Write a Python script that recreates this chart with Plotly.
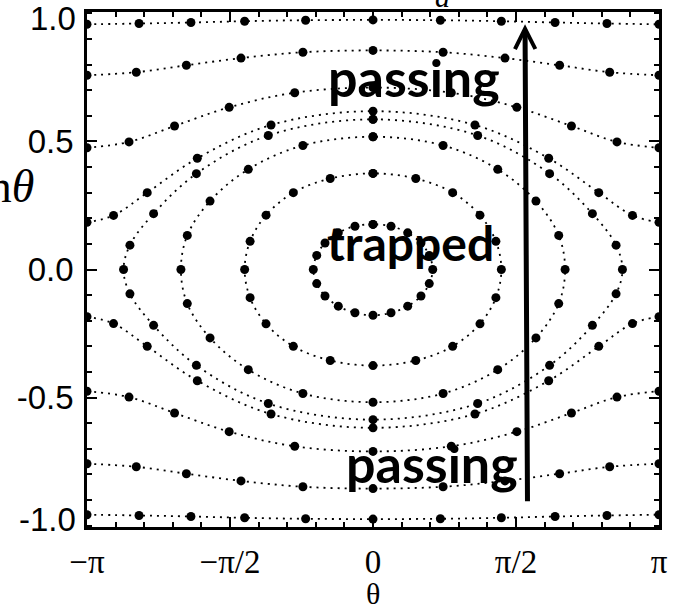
import math
import plotly.graph_objects as go

PI = math.pi

# ---- orbit sample points (theta, normalised parallel coordinate) ----
# passing orbits, upper and lower branches
p1_theta = [-PI, -2.57, -2.00, -1.41, -0.74, 0.0, 0.74, 1.41, 2.00, 2.57, PI]
p1_up = [0.957, 0.960, 0.964, 0.969, 0.973, 0.974, 0.973, 0.969, 0.964, 0.960, 0.957]
p1_dn = [-0.957, -0.960, -0.964, -0.969, -0.973, -0.974, -0.973, -0.969, -0.964, -0.960, -0.957]

p2_theta = [-PI, -2.60, -2.05, -1.45, -0.77, 0.0, 0.77, 1.45, 2.05, 2.60, PI]
p2_up = [0.758, 0.770, 0.797, 0.825, 0.848, 0.855, 0.848, 0.825, 0.797, 0.770, 0.758]
p2_dn = [-0.758, -0.770, -0.797, -0.825, -0.848, -0.855, -0.848, -0.825, -0.797, -0.770, -0.758]

p3_theta = [-PI, -2.68, -2.18, -1.58, -0.86, 0.0, 0.86, 1.58, 2.18, 2.68, PI]
p3_up = [0.475, 0.498, 0.560, 0.633, 0.690, 0.710, 0.690, 0.633, 0.560, 0.498, 0.475]
p3_dn = [-0.475, -0.498, -0.560, -0.633, -0.690, -0.710, -0.690, -0.633, -0.560, -0.498, -0.475]

p4_theta = [-PI, -2.85, -2.48, -1.93, -1.12, 0.0, 1.12, 1.93, 2.48, 2.85, PI]
p4_up = [0.184, 0.211, 0.300, 0.434, 0.564, 0.618, 0.564, 0.434, 0.300, 0.211, 0.184]
p4_dn = [-0.184, -0.211, -0.300, -0.434, -0.564, -0.618, -0.564, -0.434, -0.300, -0.211, -0.184]

# trapped orbits, closed loops starting at the top (theta = 0)
t1_theta = [0.0, 1.15, 1.94, 2.41, 2.67, 2.74, 2.67, 2.41, 1.94, 1.15, 0.0,
            -1.15, -1.94, -2.41, -2.67, -2.74, -2.67, -2.41, -1.94, -1.15, 0.0]
t1_y = [0.586, 0.523, 0.374, 0.218, 0.095, 0.0, -0.095, -0.218, -0.374, -0.523, -0.586,
        -0.523, -0.374, -0.218, -0.095, 0.0, 0.095, 0.218, 0.374, 0.523, 0.586]

t2_theta = [0.0, 0.77, 1.37, 1.79, 2.04, 2.11, 2.04, 1.79, 1.37, 0.77, 0.0,
            -0.77, -1.37, -1.79, -2.04, -2.11, -2.04, -1.79, -1.37, -0.77, 0.0]
t2_y = [0.518, 0.484, 0.391, 0.267, 0.133, 0.0, -0.133, -0.267, -0.391, -0.484, -0.518,
        -0.484, -0.391, -0.267, -0.133, 0.0, 0.133, 0.267, 0.391, 0.484, 0.518]

t3_theta = [0.0, 0.47, 0.875, 1.175, 1.35, 1.41, 1.35, 1.175, 0.875, 0.47, 0.0,
            -0.47, -0.875, -1.175, -1.35, -1.41, -1.35, -1.175, -0.875, -0.47, 0.0]
t3_y = [0.375, 0.355, 0.300, 0.212, 0.110, 0.0, -0.110, -0.212, -0.300, -0.355, -0.375,
        -0.355, -0.300, -0.212, -0.110, 0.0, 0.110, 0.212, 0.300, 0.355, 0.375]

t4_theta = [0.0, 0.198, 0.381, 0.527, 0.618, 0.656, 0.618, 0.527, 0.381, 0.198, 0.0,
            -0.198, -0.381, -0.527, -0.618, -0.656, -0.618, -0.527, -0.381, -0.198, 0.0]
t4_y = [0.176, 0.169, 0.143, 0.1035, 0.055, 0.0, -0.055, -0.1035, -0.143, -0.169, -0.1785,
        -0.169, -0.143, -0.1035, -0.055, 0.0, 0.055, 0.1035, 0.143, 0.169, 0.176]

orbits = [
    (p1_theta, p1_up), (p1_theta, p1_dn),
    (p2_theta, p2_up), (p2_theta, p2_dn),
    (p3_theta, p3_up), (p3_theta, p3_dn),
    (p4_theta, p4_up), (p4_theta, p4_dn),
    (t1_theta, t1_y), (t2_theta, t2_y), (t3_theta, t3_y), (t4_theta, t4_y),
]

# axis ticks
x_tickvals = [-PI, -PI / 2, 0, PI / 2, PI]
x_ticktext = ["\u2212\u03c0", "\u2212\u03c0/2", "0", "\u03c0/2", "\u03c0"]
y_tickvals = [-0.5, 0.0, 0.5]
y_ticktext = ["-0.5", "0.0", "0.5"]
# end labels of the y axis, kept just inside the frame: (text, paper y)
y_end_labels = [("1.0", 0.987), ("-1.0", 0.015)]

# region labels: (text, theta, y, font size)
region_labels = [("passing", 0.45, 0.752, 52), ("trapped", 0.41, 0.107, 48),
                 ("passing", 0.65, -0.756, 52)]

# vertical arrow across the phase space
arrow_tail = (1.697, -0.910)
arrow_head = (1.670, 0.957)

fig = go.Figure()
for th, yy in orbits:
    fig.add_trace(go.Scatter(
        x=th, y=yy, mode="lines+markers",
        line=dict(color="black", width=1.8, dash="2px,5px", shape="spline"),
        marker=dict(color="black", size=9),
        showlegend=False, hoverinfo="skip",
    ))

for text, tx, ty, fs in region_labels:
    fig.add_annotation(x=tx, y=ty, xref="x", yref="y", text=text, showarrow=False,
                       xanchor="center", yanchor="middle",
                       font=dict(family="Lato", size=fs, color="black", weight="bold"))

fig.add_annotation(x=arrow_head[0], y=arrow_head[1], ax=arrow_tail[0], ay=arrow_tail[1],
                   xref="x", yref="y", axref="x", ayref="y", text="", showarrow=True,
                   arrowhead=5, arrowwidth=5, arrowsize=0.8, arrowcolor="black",
                   standoff=0, startstandoff=0)

for text, py in y_end_labels:
    fig.add_annotation(x=-0.0155, y=py, xref="paper", yref="paper", text=text,
                       showarrow=False, xanchor="right", yanchor="middle",
                       font=dict(family="Liberation Sans", size=33, color="black"))

# axis titles
fig.add_annotation(x=0.5, y=-0.1295, xref="paper", yref="paper", text="\u03b8",
                   showarrow=False, xanchor="center", yanchor="middle",
                   font=dict(family="Liberation Serif", size=30, color="black"))
fig.add_annotation(x=-0.089, y=0.661, xref="paper", yref="paper", text="sin<i>\u03b8</i>",
                   showarrow=False, xanchor="right", yanchor="middle",
                   font=dict(family="Liberation Serif", size=46, color="black"))
fig.add_annotation(x=0.758, y=0.994, xref="x", yref="paper", text="<i>a</i>",
                   showarrow=False, xanchor="center", yanchor="bottom",
                   font=dict(family="Liberation Serif", size=30, color="black"))

axis_common = dict(showline=True, linecolor="black", linewidth=2.5, mirror="ticks",
                   ticks="inside", ticklen=10, tickwidth=2, tickcolor="black",
                   showgrid=False, zeroline=False, automargin=False,
                   ticklabeloverflow="allow")

fig.update_xaxes(range=[-PI, PI], tickmode="array", tickvals=x_tickvals, ticktext=x_ticktext,
                 tickfont=dict(family="Liberation Serif", size=33, color="black"),
                 ticklabelstandoff=4,
                 minor=dict(ticks="inside", ticklen=5, tickwidth=2, tickcolor="black",
                            tickmode="linear", tick0=-PI, dtick=PI / 10),
                 **axis_common)
fig.update_yaxes(range=[-1.005, 1.005], tickmode="array", tickvals=y_tickvals, ticktext=y_ticktext,
                 tickfont=dict(family="Liberation Sans", size=33, color="black"),
                 ticklabelstandoff=4,
                 minor=dict(ticks="inside", ticklen=5, tickwidth=2, tickcolor="black",
                            tickmode="linear", tick0=-1.0, dtick=0.1),
                 **axis_common)

fig.update_layout(width=681, height=611, margin=dict(l=87, r=22, t=12, b=84),
                  plot_bgcolor="white", paper_bgcolor="white")

fig.write_html("out.html")
